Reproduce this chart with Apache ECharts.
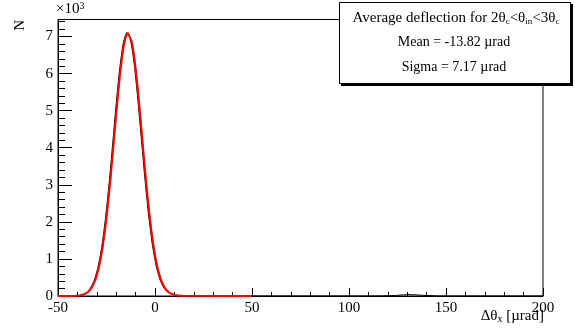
<!DOCTYPE html>
<html>
<head>
<meta charset="utf-8">
<script src="https://cdn.jsdelivr.net/npm/echarts@6/dist/echarts.min.js"></script>
<style>
  html, body { margin: 0; padding: 0; background: #fff; }
  #chart { width: 575px; height: 334px; }
</style>
</head>
<body>
<div id="chart"></div>
<script>
// histogram bins (width 1 urad), main peak starts at -45
const histStart = -45;
const histCounts = [
  0, 1, 2, 3, 6, 8, 15, 25, 37, 60,
  88, 137, 195, 288, 398, 560, 750, 1010, 1305, 1685,
  2098, 2600, 3120, 3710, 4290, 4905, 5460, 5998, 6428, 6790,
  6998, 7110, 7048, 6880, 6565, 6170, 5655, 5115, 4508, 3925,
  3325, 2785, 2268, 1830, 1430, 1112, 835, 628, 450, 326,
  222, 158, 103, 70, 44, 29, 17, 12, 6, 4, 2
];
// small tail around 120-145
const tailStart = 118;
const tailCounts = [
  4, 8, 6, 12, 15, 10, 20, 18, 25, 22,
  30, 35, 48, 40, 30, 28, 35, 25, 30, 22,
  18, 20, 15, 12, 8, 10, 5, 3
];
// gaussian fit curve
const fitX = [-50,
  -45, -44, -43, -42, -41, -40, -39, -38, -37, -36,
  -35, -34, -33, -32, -31, -30, -29, -28, -27, -26,
  -25, -24, -23, -22, -21, -20, -19, -18, -17, -16,
  -15, -14, -13, -12, -11, -10, -9, -8, -7, -6,
  -5, -4, -3, -2, -1, 0, 1, 2, 3, 4,
  5, 6, 7, 8, 9, 10, 11, 12, 13, 14, 15,
  50];
const fitY = [0,
  0.5, 1, 2, 3, 5, 9, 15, 24, 38, 59,
  90, 135, 198, 285, 402, 557, 755, 1004, 1311, 1677,
  2105, 2592, 3128, 3703, 4300, 4897, 5469, 5990, 6435, 6779,
  7005, 7098, 7054, 6875, 6572, 6161, 5664, 5107, 4516, 3917,
  3332, 2779, 2274, 1825, 1436, 1108, 839, 623, 454, 323,
  226, 156, 105, 69, 45, 28, 18, 11, 6.5, 4, 2,
  0];
const xTicks = [-50, 0, 50, 100, 150, 200];
const yTicks = [0, 1000, 2000, 3000, 4000, 5000, 6000, 7000];

const serif = "Liberation Serif";

let chartInst = echarts.init(document.getElementById("chart"));

function buildHist() {
  let data = [];
  for (let x = -50; x <= 200; x++) {
    let v = 0;
    if (x >= histStart && x < histStart + histCounts.length) v = histCounts[x - histStart];
    if (x >= tailStart && x < tailStart + tailCounts.length) v = tailCounts[x - tailStart];
    data.push([x, v]);
  }
  return data;
}

let option = {
  animation: false,
  grid: {
    left: 58,
    right: 32,
    top: 19.5,
    bottom: 38,
    show: true,
    borderColor: "#000",
    borderWidth: 1,
  },
  xAxis: {
    type: "value",
    min: -50,
    max: 200,
    interval: 50,
    axisLine: { onZero: false, lineStyle: { color: "#000", width: 1 } },
    axisTick: { inside: true, length: 8, lineStyle: { color: "#000" } },
    minorTick: { show: true, splitNumber: 5, length: 4, lineStyle: { color: "#000" } },
    splitLine: { show: false },
    axisLabel: {
      margin: 5,
      color: "#000",
      fontFamily: serif,
      fontSize: 15,
      formatter: (v) => (xTicks.indexOf(v) >= 0 ? String(v) : ""),
    },
  },
  yAxis: {
    type: "value",
    min: 0,
    max: 7460,
    interval: 1000,
    axisLine: { show: true, onZero: false, lineStyle: { color: "#000", width: 1 } },
    axisTick: { inside: true, length: 14, lineStyle: { color: "#000" } },
    minorTick: { show: true, splitNumber: 5, length: 7, lineStyle: { color: "#000" } },
    splitLine: { show: false },
    axisLabel: {
      margin: 5,
      color: "#000",
      fontFamily: serif,
      fontSize: 15,
      formatter: (v) => (yTicks.indexOf(v) >= 0 ? String(v / 1000) : ""),
    },
  },
  series: [
    {
      type: "line",
      step: "middle",
      data: buildHist(),
      symbol: "none",
      lineStyle: { color: "#000", width: 1 },
      z: 2,
    },
    {
      type: "line",
      data: fitX.map((x, i) => [x, fitY[i]]),
      symbol: "none",
      lineStyle: { color: "#ff0000", width: 2 },
      z: 3,
    },
  ],
  graphic: [
    {
      type: "text",
      left: 13,
      top: 20,
      rotation: Math.PI / 2,
      style: { text: "N", font: "15px " + serif, fill: "#000" },
    },
    {
      type: "text",
      left: 56,
      top: 1,
      style: {
        text: "×10{s|3}",
        font: "15px " + serif,
        fill: "#000",
        rich: { s: { fontSize: 10, fontFamily: serif, verticalAlign: "top", padding: [0, 0, 6, 0] } },
      },
    },
    {
      type: "text",
      right: 31,
      top: 309,
      style: {
        text: "Δθ{sub|x} [µrad]",
        font: "15px " + serif,
        fill: "#000",
        rich: { sub: { fontSize: 10, fontFamily: serif, padding: [6, 0, 0, 0] } },
      },
    },
    // stats box shadow + box
    {
      type: "rect",
      shape: { x: 341, y: 4, width: 232, height: 82 },
      style: { fill: "#000" },
      z: 10,
    },
    {
      type: "rect",
      shape: { x: 339.5, y: 2.5, width: 231, height: 81 },
      style: { fill: "#fff", stroke: "#000", lineWidth: 1 },
      z: 11,
    },
    {
      type: "text",
      x: 456,
      y: 18,
      z: 12,
      style: {
        text: "Average deflection for 2θ{sub|c}<θ{sub|in}<3θ{sub|c}",
        font: "15px " + serif,
        fill: "#000",
        align: "center",
        verticalAlign: "middle",
        rich: { sub: { fontSize: 9, fontFamily: serif, padding: [7, 0, 0, 0] } },
      },
    },
    {
      type: "text",
      x: 454,
      y: 42,
      z: 12,
      style: { text: "Mean = -13.82 µrad", font: "14px " + serif, fill: "#000", align: "center", verticalAlign: "middle" },
    },
    {
      type: "text",
      x: 454,
      y: 67,
      z: 12,
      style: { text: "Sigma = 7.17 µrad", font: "14px " + serif, fill: "#000", align: "center", verticalAlign: "middle" },
    },
  ],
};

chartInst.setOption(option, true);
</script>
</body>
</html>
